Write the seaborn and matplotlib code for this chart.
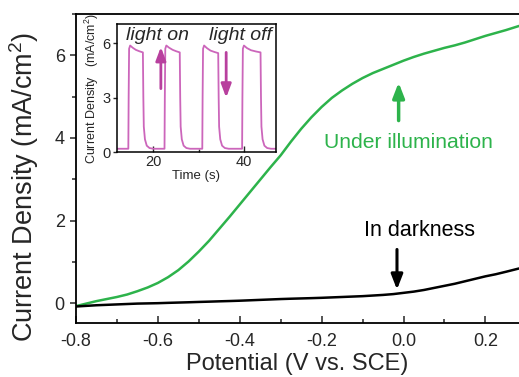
import matplotlib
matplotlib.use("Agg")
import matplotlib.pyplot as plt
import seaborn as sns
import pandas as pd
from matplotlib.ticker import MultipleLocator, FormatStrFormatter

# ---- data ----
potential = [-0.8, -0.775, -0.75, -0.725, -0.7, -0.675, -0.65, -0.625, -0.6, -0.575,
             -0.55, -0.525, -0.5, -0.475, -0.45, -0.425, -0.4, -0.375, -0.35, -0.325,
             -0.3, -0.275, -0.25, -0.225, -0.2, -0.175, -0.15, -0.125, -0.1, -0.075,
             -0.05, -0.025, 0.0, 0.025, 0.05, 0.075, 0.1, 0.125, 0.15, 0.175,
             0.2, 0.225, 0.25, 0.282]
j_light = [-0.07, -0.01, 0.05, 0.10, 0.15, 0.21, 0.29, 0.38, 0.49, 0.63,
           0.80, 1.01, 1.25, 1.51, 1.80, 2.09, 2.39, 2.69, 2.99, 3.29,
           3.58, 3.91, 4.22, 4.50, 4.75, 4.97, 5.15, 5.31, 5.45, 5.57,
           5.67, 5.77, 5.87, 5.96, 6.04, 6.11, 6.18, 6.24, 6.31, 6.39,
           6.47, 6.54, 6.61, 6.71]
j_dark = [-0.08, -0.065, -0.05, -0.04, -0.03, -0.02, -0.01, -0.005, 0.0, 0.008,
          0.015, 0.022, 0.03, 0.037, 0.045, 0.052, 0.06, 0.07, 0.08, 0.09,
          0.10, 0.108, 0.115, 0.122, 0.13, 0.14, 0.15, 0.16, 0.17, 0.185,
          0.20, 0.22, 0.25, 0.28, 0.32, 0.37, 0.42, 0.47, 0.53, 0.59,
          0.65, 0.70, 0.76, 0.84]

time_s = [12.0, 14.55, 14.62, 14.72, 14.95, 15.5, 16.2, 17.0, 17.75, 17.85,
          17.95, 18.2, 18.6, 19.2, 20.0, 22.5, 22.57, 22.67, 22.9, 23.5,
          24.3, 25.1, 25.85, 25.95, 26.05, 26.3, 26.7, 27.3, 28.1, 30.8,
          30.87, 30.97, 31.2, 31.8, 32.6, 33.5, 34.3, 34.4, 34.5, 34.75,
          35.15, 35.75, 36.6, 39.55, 39.62, 39.72, 39.95, 40.6, 41.5, 42.6,
          43.6, 43.7, 43.8, 44.05, 44.45, 45.05, 45.9, 47.0]
j_time = [0.18, 0.18, 3.0, 5.7, 5.88, 5.76, 5.64, 5.56, 5.5, 3.0,
          1.4, 0.7, 0.35, 0.22, 0.18, 0.18, 3.0, 5.7, 5.88, 5.76,
          5.64, 5.56, 5.5, 3.0, 1.4, 0.7, 0.35, 0.22, 0.18, 0.18,
          3.0, 5.7, 5.88, 5.74, 5.6, 5.52, 5.46, 3.0, 1.4, 0.7,
          0.35, 0.22, 0.18, 0.18, 3.0, 5.7, 5.88, 5.74, 5.62, 5.55,
          5.5, 3.0, 1.4, 0.7, 0.35, 0.22, 0.18, 0.18]

GREEN = "#2db34b"
PINK = "#cc66bb"
PINK_DARK = "#b8409e"

sns.set_style("ticks")
plt.rcParams["font.family"] = ["Liberation Sans", "DejaVu Sans"]
plt.rcParams["mathtext.default"] = "regular"
plt.rcParams["axes.unicode_minus"] = False

df_jv = pd.DataFrame({"Potential": potential + potential,
                      "J": j_light + j_dark,
                      "cond": ["light"] * len(potential) + ["dark"] * len(potential)})
df_t = pd.DataFrame({"t": time_s, "j": j_time})

fig = plt.figure(figsize=(5.19, 3.77), dpi=100)
ax = fig.add_axes([0.1464, 0.1432, 0.8536, 0.8197])

sns.lineplot(data=df_jv, x="Potential", y="J", hue="cond",
             palette={"light": GREEN, "dark": "black"}, linewidth=1.8,
             legend=False, ax=ax, sort=False)

ax.set_xlim(-0.8, 0.282)
ax.set_ylim(-0.48, 7.0)
ax.xaxis.set_major_locator(MultipleLocator(0.2))
ax.xaxis.set_minor_locator(MultipleLocator(0.1))
ax.xaxis.set_major_formatter(FormatStrFormatter("%.1f"))
ax.yaxis.set_major_locator(MultipleLocator(2))
ax.yaxis.set_minor_locator(MultipleLocator(1))
ax.tick_params(axis="x", which="major", direction="in", length=5, width=1.1,
               labelsize=13, pad=7)
ax.tick_params(axis="x", which="minor", direction="in", length=3, width=1.1)
ax.tick_params(axis="y", which="major", direction="out", length=4.5, width=1.1,
               labelsize=13)
ax.tick_params(axis="y", which="minor", direction="out", length=3, width=1.1)
for s in ["left", "bottom", "top"]:
    ax.spines[s].set_visible(True)
    ax.spines[s].set_linewidth(1.3)
    ax.spines[s].set_color("black")
ax.spines["right"].set_visible(False)
ax.set_xlabel("Potential (V vs. SCE)", fontsize=17, labelpad=2)
ax.set_ylabel("Current Density (mA/cm$^2$)", fontsize=19.5)
ax.yaxis.set_label_coords(-0.08, 0.44)

# annotations on main axes
ax.annotate("", xy=(-0.012, 5.34), xytext=(-0.012, 4.42),
            arrowprops=dict(arrowstyle="-|>,head_length=0.9,head_width=0.35",
                            color=GREEN, lw=2.5, shrinkA=0, shrinkB=0))
ax.text(0.011, 3.9, "Under illumination", color=GREEN, fontsize=15.2,
        ha="center", va="center")
ax.annotate("", xy=(-0.016, 0.33), xytext=(-0.016, 1.30),
            arrowprops=dict(arrowstyle="-|>,head_length=0.9,head_width=0.35",
                            color="black", lw=2.2, shrinkA=0, shrinkB=0))
ax.text(0.039, 1.76, "In darkness", color="black", fontsize=15.5,
        ha="center", va="center")

# ---- inset ----
ins = fig.add_axes([0.2249, 0.5968, 0.3069, 0.3387])
ins.set_facecolor("white")
sns.lineplot(data=df_t, x="t", y="j", color=PINK, linewidth=1.3, ax=ins,
             sort=False)
ins.set_xlim(12.0, 47.0)
ins.set_ylim(0, 7.05)
ins.xaxis.set_major_locator(MultipleLocator(20))
ins.xaxis.set_minor_locator(MultipleLocator(10))
ins.yaxis.set_major_locator(MultipleLocator(3))
ins.tick_params(axis="x", which="major", direction="in", length=4, width=1,
                labelsize=10.5, pad=2)
ins.tick_params(axis="x", which="minor", direction="in", length=2.5, width=1)
ins.tick_params(axis="y", which="major", direction="out", length=3, width=1,
                labelsize=10.5, pad=1.5)
for s in ins.spines.values():
    s.set_visible(True)
    s.set_linewidth(1.1)
    s.set_color("black")
ins.set_xlabel("Time (s)", fontsize=9.5, labelpad=1)
ins.set_ylabel("Current Density   (mA/cm$^2$)", fontsize=9, labelpad=1)
ins.text(21.06, 6.45, "light on", fontsize=14, style="italic",
         ha="center", va="center")
ins.text(39.25, 6.45, "light off", fontsize=14, style="italic",
         ha="center", va="center")
ins.annotate("", xy=(21.7, 5.8), xytext=(21.7, 3.5),
             arrowprops=dict(arrowstyle="-|>,head_length=0.8,head_width=0.3",
                             color=PINK_DARK, lw=2, shrinkA=0, shrinkB=0))
ins.annotate("", xy=(36.05, 3.0), xytext=(36.05, 5.5),
             arrowprops=dict(arrowstyle="-|>,head_length=0.8,head_width=0.3",
                             color=PINK_DARK, lw=2, shrinkA=0, shrinkB=0))

fig.savefig("out.png", dpi=100)
